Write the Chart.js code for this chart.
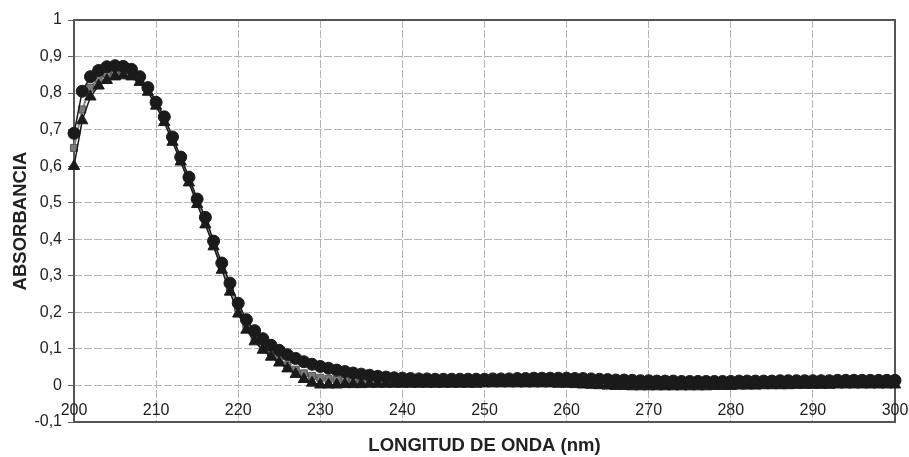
<!DOCTYPE html>
<html><head><meta charset="utf-8">
<script src="https://cdn.jsdelivr.net/npm/chart.js@4/dist/chart.umd.min.js"></script>
<style>html,body{margin:0;padding:0;background:#fff;}#wrap{width:909px;height:457px;position:relative;}</style>
</head><body><div id="wrap"><canvas id="c"></canvas></div>
<script>
const wavelengths = [200,201,202,203,204,205,206,207,208,209,210,211,212,213,214,215,216,217,218,219,220,221,222,223,224,225,226,227,228,229,230,231,232,233,234,235,236,237,238,239,240,241,242,243,244,245,246,247,248,249,250,251,252,253,254,255,256,257,258,259,260,261,262,263,264,265,266,267,268,269,270,271,272,273,274,275,276,277,278,279,280,281,282,283,284,285,286,287,288,289,290,291,292,293,294,295,296,297,298,299,300];

const seriesCircle = [0.69,0.805,0.845,0.862,0.872,0.875,0.873,0.865,0.845,0.815,
0.775,0.735,0.68,0.625,0.57,0.51,0.46,0.395,0.335,0.28,
0.225,0.18,0.15,0.128,0.11,0.096,0.084,0.074,0.065,0.058,
0.052,0.047,0.042,0.038,0.034,0.031,0.028,0.025,0.023,0.021,
0.02,0.019,0.018,0.018,0.017,0.017,0.017,0.017,0.017,0.017,
0.017,0.018,0.018,0.018,0.019,0.019,0.02,0.02,0.02,0.02,
0.02,0.019,0.019,0.018,0.017,0.016,0.015,0.015,0.014,0.013,
0.013,0.012,0.012,0.012,0.011,0.011,0.011,0.011,0.011,0.011,
0.011,0.012,0.012,0.012,0.012,0.012,0.013,0.013,0.013,0.013,
0.013,0.013,0.013,0.014,0.014,0.014,0.014,0.014,0.014,0.014,
0.014];

const seriesSquare = [0.65,0.755,0.815,0.84,0.852,0.858,0.858,0.852,0.836,0.808,
0.77,0.728,0.674,0.62,0.563,0.503,0.448,0.388,0.325,0.268,
0.212,0.165,0.13,0.105,0.088,0.07,0.055,0.043,0.033,0.026,
0.021,0.018,0.016,0.014,0.013,0.012,0.011,0.011,0.01,0.01,
0.01,0.01,0.01,0.009,0.009,0.009,0.009,0.009,0.009,0.009,
0.009,0.01,0.01,0.01,0.011,0.011,0.012,0.012,0.012,0.012,
0.011,0.011,0.01,0.009,0.008,0.007,0.006,0.005,0.005,0.004,
0.004,0.004,0.004,0.004,0.004,0.004,0.004,0.004,0.004,0.004,
0.005,0.005,0.005,0.005,0.005,0.006,0.006,0.006,0.006,0.006,
0.006,0.007,0.007,0.007,0.007,0.007,0.007,0.007,0.007,0.007,
0.007];

const seriesTriangle = [0.60,0.725,0.79,0.82,0.835,0.845,0.848,0.845,0.83,0.803,
0.765,0.72,0.666,0.612,0.555,0.496,0.44,0.38,0.316,0.256,
0.196,0.152,0.12,0.097,0.078,0.062,0.046,0.031,0.017,0.007,
0.002,0.002,0.002,0.003,0.003,0.003,0.004,0.004,0.004,0.004,
0.004,0.004,0.004,0.004,0.004,0.004,0.004,0.004,0.004,0.004,
0.005,0.005,0.005,0.005,0.005,0.005,0.005,0.005,0.005,0.004,
0.004,0.003,0.002,0.001,0.0,-0.001,-0.002,-0.002,-0.003,-0.003,
-0.003,-0.003,-0.003,-0.003,-0.003,-0.003,-0.003,-0.003,-0.002,-0.002,
-0.002,-0.001,-0.001,-0.001,0.0,0.0,0.0,0.0,0.001,0.001,
0.001,0.001,0.001,0.002,0.002,0.002,0.002,0.002,0.002,0.002,
0.002];

const xTickLabels = ['200','210','220','230','240','250','260','270','280','290','300'];
const xTitle = 'LONGITUD DE ONDA (nm)';
const yTitle = 'ABSORBANCIA';

const FONT = '"Liberation Sans", Arial, Helvetica, sans-serif';

function pts(arr){ return arr.map((v,i)=>({x:wavelengths[i], y:v})); }

const framePlugin = {
  id:'frame',
  beforeDatasetsDraw(chart){
    const {ctx, chartArea:a} = chart;
    ctx.save();
    ctx.strokeStyle = '#555';
    ctx.lineWidth = 2;
    ctx.strokeRect(a.left, a.top, a.right - a.left, a.bottom - a.top);
    ctx.restore();
  },
  afterDraw(chart){
    const {ctx, scales:{x, y}} = chart;
    const y0 = y.getPixelForValue(0);
    ctx.save();
    ctx.font = '16px ' + FONT;
    ctx.fillStyle = '#222';
    ctx.textAlign = 'center';
    ctx.textBaseline = 'middle';
    xTickLabels.forEach(t => ctx.fillText(t, x.getPixelForValue(Number(t)), y0 + 25));
    ctx.restore();
  }
};

new Chart(document.getElementById('c'), {
  type: 'line',
  data: {
    datasets: [
      { label:'Serie 1', data: pts(seriesCircle), borderColor:'#1a1a1a', backgroundColor:'#1a1a1a',
        pointStyle:'circle', pointRadius:6, pointBorderWidth:1, borderWidth:1.5, order:0, clip:false },
      { label:'Serie 2', data: pts(seriesSquare), borderColor:'#8a8a8a', backgroundColor:'#7a7a7a',
        pointBorderColor:'#555', pointStyle:'rect', pointRadius:5, pointBorderWidth:1, borderWidth:2, order:2, clip:false },
      { label:'Serie 3', data: pts(seriesTriangle), borderColor:'#1a1a1a', backgroundColor:'#1a1a1a',
        pointStyle:'triangle', pointRadius:6.5, pointBorderWidth:1, borderWidth:1.5, order:1, clip:false }
    ]
  },
  options: {
    responsive: true,
    maintainAspectRatio: false,
    animation: false,
    events: [],
    layout: { padding: { top: 20, right: 14, bottom: 0, left: 0 } },
    plugins: { legend: { display:false }, tooltip: { enabled:false } },
    scales: {
      x: {
        type: 'linear', min: 200, max: 300,
        ticks: { display:false, stepSize:10 },
        grid: { color:'#b5b5b5', drawTicks:false, lineWidth:1 },
        border: { display:false, dash:[8,2] },
        title: { display:true, text:xTitle, color:'#222', font:{ family:FONT, size:18.5, weight:'bold' }, padding:{ top:0, bottom:0 } },
        afterFit(scale){ scale.height = 35; }
      },
      y: {
        min: -0.1, max: 1,
        ticks: {
          stepSize: 0.1, color:'#222', padding:6, font:{ family:FONT, size:16 },
          callback(v){
            const r = Math.round(v*10)/10;
            if (Math.abs(r - Math.round(r)) < 1e-9) return String(Math.round(r));
            return r.toFixed(1).replace('.', ',');
          }
        },
        grid: { color:'#b5b5b5', tickColor:'#666', tickLength:6, lineWidth:1 },
        border: { display:false, dash:[8,2] },
        title: { display:true, text:yTitle, color:'#222', font:{ family:FONT, size:18.5, weight:'bold' }, padding:{ top:10, bottom:0 } },
        afterFit(scale){ scale.width = 74; }
      }
    }
  },
  plugins: [framePlugin]
});
</script>
</body></html>
